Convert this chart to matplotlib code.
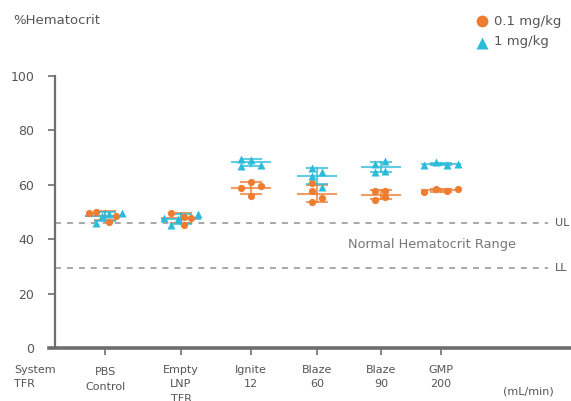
import numpy as np
import matplotlib
matplotlib.use("Agg")
import matplotlib.pyplot as plt

plt.rcParams['font.family'] = ['DejaVu Sans']
plt.rcParams['lines.scale_dashes'] = False

groups = ['PBS\nControl', 'Empty\nLNP\nTFR', 'Ignite\n12', 'Blaze\n60', 'Blaze\n90', 'GMP\n200']
low_dose = [
    [49.6, 50.0, 48.5, 46.3],
    [49.6, 48.2, 47.8, 45.2],
    [61.0, 58.8, 59.6, 55.9],
    [60.7, 57.7, 55.1, 53.7],
    [57.7, 57.7, 55.5, 54.4],
    [57.4, 58.5, 57.7, 58.5],
]
high_dose = [
    [46.0, 48.5, 49.3, 49.6],
    [47.8, 45.2, 47.4, 49.3],
    [69.5, 69.1, 67.3, 66.9],
    [66.2, 64.7, 63.2, 59.2],
    [67.6, 68.8, 64.7, 65.1],
    [67.3, 68.4, 67.3, 67.6],
]
upper_limit = 46.0
lower_limit = 29.4

# layout (x in pixel-like units across the axes)
group_x = [105, 181, 251, 317, 381, 441]
low_jitter = [[-16, -9, 11, 4], [-10, 3, 10, 3], [0, -10, 10, 0],
              [-5, -5, 5, -5], [-6, 4, 4, -6], [-17, -5, 6, 17]]
high_jitter = [[-9, -3, 4, 17], [-17, -10, -3, 17], [-10, 0, 10, -10],
               [-5, 5, -5, 5], [-6, 4, -6, 4], [-17, -5, 6, 17]]

orange = '#ED7D31'
cyan = '#2CBCD9'
grey = '#6E6E6E'
W, H = 571, 401


def draw_group(ax, x, vals, offs, color, marker, ms):
    vals = np.array(vals)
    m = vals.mean()
    sd = vals.std(ddof=1)
    ax.plot([x - 19, x + 19], [m, m], color=color, lw=1.5, alpha=0.75, zorder=2)
    ax.plot([x, x], [m - sd, m + sd], color=color, lw=1.5, alpha=0.75, zorder=2)
    ax.plot([x - 10, x + 10], [m + sd, m + sd], color=color, lw=1.5, alpha=0.75, zorder=2)
    ax.plot([x - 10, x + 10], [m - sd, m - sd], color=color, lw=1.5, alpha=0.75, zorder=2)
    ax.plot(x + np.array(offs), vals, linestyle='none', marker=marker, ms=ms,
            color=color, mec='none', zorder=3)


fig = plt.figure(figsize=(W / 100, H / 100), dpi=100)
ax = fig.add_axes([55 / W, 1 - 348 / H, (W - 55) / W, 272 / H])
ax.set_xlim(55, W)
ax.set_ylim(0, 100)

for sp in ['top', 'right']:
    ax.spines[sp].set_visible(False)
ax.spines['left'].set_color(grey)
ax.spines['left'].set_linewidth(1.6)
ax.spines['bottom'].set_color(grey)
ax.spines['bottom'].set_linewidth(2.6)
ax.spines['bottom'].set_bounds(49, W)
ax.spines['left'].set_bounds(0, 100)

ax.set_yticks([0, 20, 40, 60, 80, 100])
ax.tick_params(axis='y', colors=grey, labelcolor='#555555', labelsize=9,
               length=5, width=1.2, pad=10)
ax.set_xticks(group_x)
ax.set_xticklabels(groups, linespacing=1.6)
ax.tick_params(axis='x', colors=grey, labelcolor='#555555', labelsize=8,
               length=5, width=1.2, pad=7)
ax.get_xticklabels()[0].set_y(-0.01)

ax.hlines([upper_limit, lower_limit], 55, 548, colors='#9A9A9A', lw=1.2,
          linestyles=(0, (4.3, 4.3)), zorder=1)
ax.text(555, upper_limit, 'UL', color='#555555', fontsize=8, va='center', clip_on=False)
ax.text(555, lower_limit, 'LL', color='#555555', fontsize=8, va='center', clip_on=False)
ax.text(432, 38.2, 'Normal Hematocrit Range', color='#777777', fontsize=9.3,
        ha='center', va='center')

for i, x in enumerate(group_x):
    draw_group(ax, x, low_dose[i], low_jitter[i], orange, 'o', 5.2)
    draw_group(ax, x, high_dose[i], high_jitter[i], cyan, '^', 5.6)

fig.text(13 / W, 1 - 21 / H, '%Hematocrit', color='#555555', fontsize=9.5, va='center')
fig.text(14 / W, 1 - 377 / H, 'System\nTFR', color='#555555', fontsize=8,
         va='center', linespacing=1.6)
fig.text(528 / W, 1 - 391 / H, '(mL/min)', color='#555555', fontsize=8,
         ha='center', va='center')

fig.lines.append(plt.Line2D([482 / W], [1 - 21 / H], marker='o', ms=8.5, color=orange,
                            mec='none', transform=fig.transFigure))
fig.lines.append(plt.Line2D([482 / W], [1 - 43 / H], marker='^', ms=8.5, color=cyan,
                            mec='none', transform=fig.transFigure))
fig.text(494 / W, 1 - 21 / H, '0.1 mg/kg', color='#555555', fontsize=9.5, va='center')
fig.text(494 / W, 1 - 42 / H, '1 mg/kg', color='#555555', fontsize=9.5, va='center')

fig.savefig('out.png', dpi=100)
